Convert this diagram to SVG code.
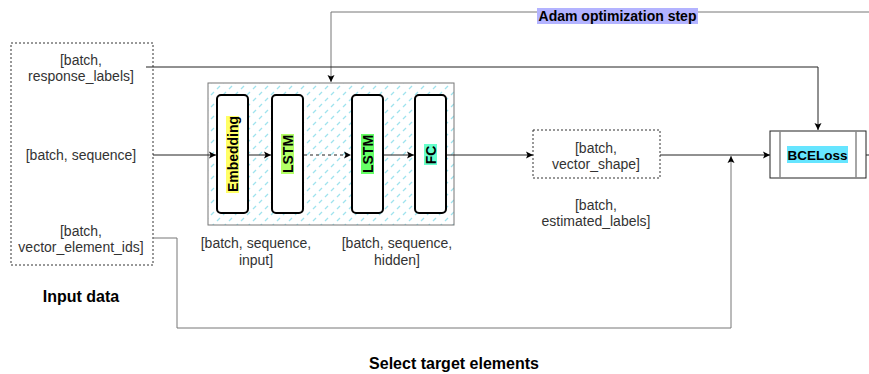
<svg xmlns="http://www.w3.org/2000/svg" width="869" height="374" viewBox="0 0 869 374">
<style>
.t{font-family:"Liberation Sans",Arial,sans-serif;font-size:14px;fill:#333;text-anchor:middle}
.b{font-family:"Liberation Sans",Arial,sans-serif;font-weight:bold;fill:#000;text-anchor:middle}
.dash{fill:#fff;stroke:#333;stroke-width:1;stroke-dasharray:2 2}
.layer{fill:#fff;stroke:#000;stroke-width:2}
.c{fill:none;stroke:#222;stroke-width:1}
.g{fill:none;stroke:#777;stroke-width:1}
</style>
<defs>
<marker id="ah" markerWidth="8" markerHeight="8" refX="7" refY="4" orient="auto" markerUnits="userSpaceOnUse">
<path d="M0,0.5 L7,4 L0,7.5 L1.5,4 Z" fill="#000"/>
</marker>
<pattern id="hatch" width="12" height="12" patternUnits="userSpaceOnUse">
<rect width="12" height="12" fill="#fff"/>
<line x1="1" y1="5" x2="4" y2="2" stroke="#9fe3ee" stroke-width="1.2"/>
<line x1="7" y1="11" x2="10" y2="8" stroke="#9fe3ee" stroke-width="1.2"/>
</pattern>
</defs>
<rect width="869" height="374" fill="#fff"/>

<g id="input-data">
<rect class="dash" x="11" y="43" width="142" height="222"/>
<text class="t" x="81" y="65">[batch,</text>
<text class="t" x="81" y="81">response_labels]</text>
<text class="t" x="81" y="160">[batch, sequence]</text>
<text class="t" x="81" y="236">[batch,</text>
<text class="t" x="81" y="252">vector_element_ids]</text>
<text class="b" x="81" y="302" font-size="16">Input data</text>
</g>

<g id="model">
<rect x="208" y="83" width="246" height="142" fill="url(#hatch)" stroke="#777" stroke-width="1"/>
</g>

<g id="embedding">
<rect class="layer" x="217" y="95" width="31" height="118" rx="4"/>
<rect x="226" y="116" width="13" height="77" fill="#ffff66"/>
<text class="b" font-size="14" transform="translate(237.5,154) rotate(-90)">Embedding</text>
</g>

<g id="lstm1">
<rect class="layer" x="272" y="95" width="31" height="118" rx="4"/>
<rect x="281" y="134" width="13" height="40" fill="#b3ff66"/>
<text class="b" font-size="14" transform="translate(292.5,154) rotate(-90)">LSTM</text>
</g>

<g id="lstm2">
<rect class="layer" x="352" y="95" width="31" height="118" rx="4"/>
<rect x="361" y="134" width="13" height="40" fill="#66ff66"/>
<text class="b" font-size="14" transform="translate(372.5,154) rotate(-90)">LSTM</text>
</g>

<g id="fc">
<rect class="layer" x="415" y="95" width="31" height="118" rx="4"/>
<rect x="424" y="144" width="13" height="21" fill="#66ffcc"/>
<text class="b" font-size="14" transform="translate(435.5,155) rotate(-90)">FC</text>
</g>

<g id="shape-labels">
<text class="t" x="256" y="248">[batch, sequence,</text>
<text class="t" x="256" y="265">input]</text>
<text class="t" x="397" y="248">[batch, sequence,</text>
<text class="t" x="397" y="265">hidden]</text>
</g>

<g id="vector-shape">
<rect class="dash" x="533" y="130" width="127" height="48"/>
<text class="t" x="596" y="153">[batch,</text>
<text class="t" x="596" y="169">vector_shape]</text>
<text class="t" x="596" y="210">[batch,</text>
<text class="t" x="596" y="226">estimated_labels]</text>
</g>

<g id="bceloss">
<rect x="770" y="131" width="96" height="47" fill="#fff" stroke="#222" stroke-width="1"/>
<line x1="780" y1="131" x2="780" y2="178" stroke="#888" stroke-width="1.5"/>
<line x1="856" y1="131" x2="856" y2="178" stroke="#888" stroke-width="1.5"/>
<rect x="787" y="146" width="61" height="17" fill="#66e5ff"/>
<text class="b" x="817.5" y="159.5" font-size="13.5">BCELoss</text>
</g>

<g id="connectors">
<path class="g" d="M869,12 H331 V82" marker-end="url(#ah)"/>
<path class="c" d="M146,67 H818 V130" marker-end="url(#ah)"/>
<path class="c" d="M153,155 H216" marker-end="url(#ah)"/>
<path class="c" d="M249,155 H271" marker-end="url(#ah)"/>
<path class="c" d="M304,155 H351" stroke-dasharray="3 3" marker-end="url(#ah)"/>
<path class="c" d="M384,155 H414" marker-end="url(#ah)"/>
<path class="c" d="M447,155 H533" marker-end="url(#ah)"/>
<path class="c" d="M660,155 H770" marker-end="url(#ah)"/>
<path class="c" d="M866,155 H869"/>
<path class="g" d="M153,238 H177 V328 H731 V156" marker-end="url(#ah)"/>
</g>

<g id="adam">
<rect x="537" y="8" width="161" height="16" fill="#b3b3ff"/>
<text class="b" x="617.5" y="21" font-size="14">Adam optimization step</text>
</g>

<g id="select-target">
<text class="b" x="454" y="369" font-size="16">Select target elements</text>
</g>
</svg>
